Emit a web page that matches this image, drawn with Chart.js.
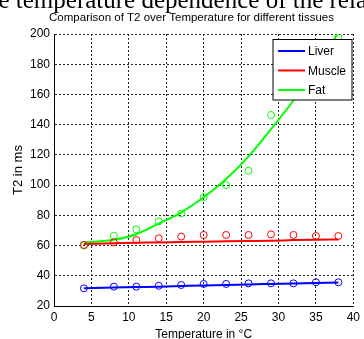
<!DOCTYPE html>
<html>
<head>
<meta charset="utf-8">
<script src="https://cdn.jsdelivr.net/npm/chart.js@4.4.0/dist/chart.umd.min.js"></script>
<style>
  html, body { margin: 0; padding: 0; background: #fff; overflow: hidden; }
  #wrap { position: relative; width: 364px; height: 339px; overflow: hidden; }
  #caption { position: absolute; left: -21px; top: -13px; font: 25px/25px "Liberation Serif", serif; color: #000; white-space: nowrap; }
  canvas { position: absolute; left: 0; top: 0; }
</style>
</head>
<body>
<div id="wrap">
  <canvas id="chart" width="364" height="339"></canvas>
  <div id="caption">the temperature dependence of the relaxation</div>
</div>
<script>
// temperatures (°C)
const temps = [4, 8, 11, 14, 17, 20, 23, 26, 29, 32, 35, 38];

// measured T2 (ms), open circles
const liverMeas  = [31.7, 32.8, 32.8, 33.4, 33.9, 34.6, 34.6, 35.0, 35.0, 35.0, 35.7, 35.7];
const muscleMeas = [60.4, 62.1, 63.7, 64.8, 65.9, 67.0, 67.0, 67.0, 67.4, 67.0, 66.3, 66.3];
const fatMeas    = [60.0, 66.5, 70.7, 76.0, 81.3, 92.0, 100.0, 109.5, 146.4, 160.0, 178.0, 198.0];

// fitted curves (ms)
const liverFit  = [31.8, 32.2, 32.5, 32.8, 33.2, 33.6, 33.9, 34.3, 34.6, 34.9, 35.2, 35.5];
const muscleFit = [61.0, 61.5, 61.9, 62.1, 62.4, 62.6, 62.8, 63.0, 63.2, 63.6, 63.9, 64.0];
const fatFit    = [62.0, 63.8, 67.5, 74.5, 82.0, 92.0, 104.0, 119.0, 137.0, 156.0, 177.0, 201.0];

const seriesNames = ['Liver', 'Muscle', 'Fat'];
const seriesColors = ['#0000ff', '#ff0000', '#00ff00'];

const xTicks = [0, 5, 10, 15, 20, 25, 30, 35, 40];
const yTicks = [20, 40, 60, 80, 100, 120, 140, 160, 180, 200];

const chartTitle = 'Comparison of T2 over Temperature for different tissues';
const xTitle = 'Temperature in °C';
const yTitle = 'T2 in ms';

const FONT = '"Liberation Sans", Arial, sans-serif';

function pts(ys) {
  return temps.map((t, i) => ({ x: t, y: ys[i] }));
}

function fitSet(i, ys) {
  return {
    label: seriesNames[i],
    data: pts(ys),
    showLine: true,
    borderColor: seriesColors[i],
    borderWidth: 2,
    pointRadius: 0,
    pointHoverRadius: 0,
    cubicInterpolationMode: 'monotone',
    clip: 0
  };
}

function measSet(i, ys) {
  return {
    label: seriesNames[i] + ' data',
    data: pts(ys),
    showLine: false,
    borderColor: seriesColors[i],
    backgroundColor: 'rgba(0,0,0,0)',
    borderWidth: 1,
    pointStyle: 'circle',
    pointRadius: 3.5,
    clip: 0
  };
}

// title + MATLAB-like legend box drawn on top of the data
const overlay = {
  id: 'overlay',
  afterDraw(chart) {
    const ctx = chart.ctx;
    ctx.save();
    ctx.fillStyle = '#000';
    ctx.font = '11.5px ' + FONT;
    ctx.textAlign = 'center';
    ctx.textBaseline = 'alphabetic';
    ctx.fillText(chartTitle, 191.5, 21);

    const bx = 273, by = 39.5, bw = 79, bh = 60.5;
    ctx.fillStyle = '#fff';
    ctx.fillRect(bx, by, bw, bh);
    ctx.strokeStyle = '#000';
    ctx.lineWidth = 1;
    ctx.strokeRect(bx, by, bw, bh);
    ctx.font = '12px ' + FONT;
    ctx.textAlign = 'left';
    ctx.textBaseline = 'middle';
    seriesNames.forEach((name, i) => {
      const y = 51 + i * 19.5;
      ctx.strokeStyle = seriesColors[i];
      ctx.lineWidth = 2;
      ctx.beginPath();
      ctx.moveTo(278, y);
      ctx.lineTo(305, y);
      ctx.stroke();
      ctx.fillStyle = '#000';
      ctx.fillText(name, 308, y + 1);
    });
    ctx.restore();
  }
};

const gridOpts = {
  color: 'rgba(0,0,0,0.85)',
  lineWidth: 1,
  drawTicks: false
};

new Chart(document.getElementById('chart'), {
  type: 'scatter',
  data: {
    datasets: [
      measSet(0, liverMeas), measSet(1, muscleMeas), measSet(2, fatMeas),
      fitSet(0, liverFit), fitSet(1, muscleFit), fitSet(2, fatFit)
    ]
  },
  options: {
    responsive: false,
    animation: false,
    events: [],
    layout: { padding: { top: 34, right: 7, left: 0, bottom: 0 } },
    plugins: {
      legend: { display: false },
      title: { display: false },
      tooltip: { enabled: false }
    },
    scales: {
      x: {
        type: 'linear',
        min: 0,
        max: 40,
        afterBuildTicks: s => { s.ticks = xTicks.map(v => ({ value: v })); },
        ticks: { color: '#000', font: { family: FONT, size: 12 }, padding: 4, maxRotation: 0 },
        grid: gridOpts,
        border: { display: true, color: '#000', width: 1, dash: [2, 2] },
        title: { display: true, text: xTitle, color: '#000', font: { family: FONT, size: 12 }, padding: { top: 0, bottom: -3 } },
        afterFit: s => { s.height = 33; }
      },
      y: {
        type: 'linear',
        min: 20,
        max: 200,
        afterBuildTicks: s => { s.ticks = yTicks.map(v => ({ value: v })); },
        ticks: { color: '#000', font: { family: FONT, size: 12 }, padding: 4 },
        grid: gridOpts,
        border: { display: true, color: '#000', width: 1, dash: [2, 2] },
        title: { display: true, text: yTitle, color: '#000', font: { family: FONT, size: 13 }, padding: { top: 11, bottom: 0 } },
        afterFit: s => { s.width = 54; }
      }
    }
  },
  plugins: [overlay]
});
</script>
</body>
</html>
